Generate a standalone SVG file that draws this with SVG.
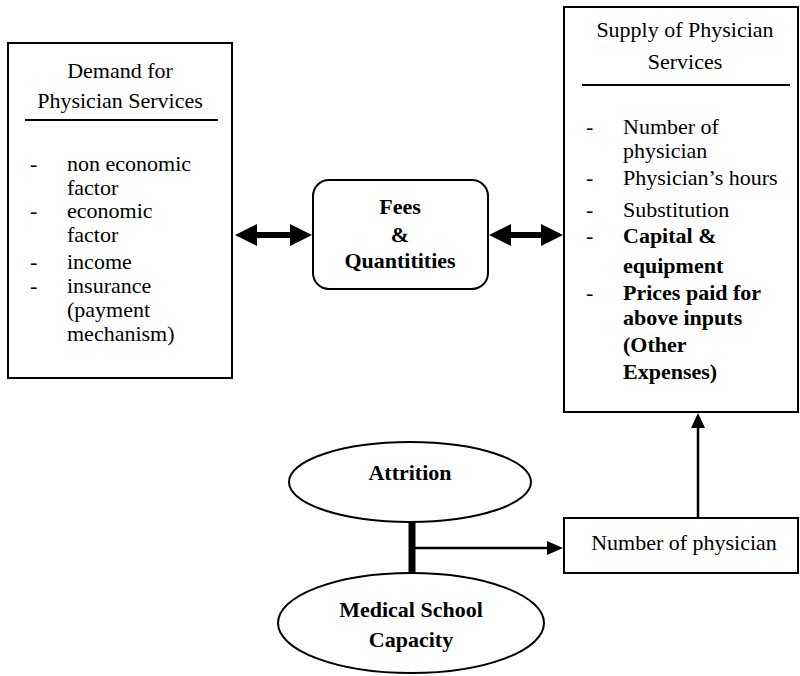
<svg xmlns="http://www.w3.org/2000/svg" width="800" height="676" viewBox="0 0 800 676" font-family="'Liberation Serif', 'DejaVu Serif', serif">
<style>
text{font-family:'Liberation Serif','DejaVu Serif',serif;font-size:22px;fill:#000}
.b{font-weight:bold}
.c{text-anchor:middle}
.box{fill:#fff;stroke:#000;stroke-width:2}
.rule{stroke:#000;stroke-width:2}
.ln{stroke:#000;stroke-width:2.5;fill:none}
</style>
<rect width="800" height="676" fill="#fff"/>

<g id="demand">
<rect class="box" x="8" y="43" width="224" height="335"/>
<text class="c" x="120" y="78">Demand for</text>
<text class="c" x="120" y="108">Physician Services</text>
<line class="rule" x1="25" y1="120" x2="218" y2="120"/>
<text x="30" y="171">-</text><text x="67" y="171">non economic</text>
<text x="67" y="195">factor</text>
<text x="30" y="218">-</text><text x="67" y="218">economic</text>
<text x="67" y="242">factor</text>
<text x="30" y="269">-</text><text x="67" y="269">income</text>
<text x="30" y="293">-</text><text x="67" y="293">insurance</text>
<text x="67" y="317">(payment</text>
<text x="67" y="341">mechanism)</text>
</g>

<g id="fees">
<rect class="box" x="313" y="180" width="175" height="109" rx="16" ry="16"/>
<text class="c b" x="400" y="214">Fees</text>
<text class="c b" x="400" y="242">&amp;</text>
<text class="c b" x="400" y="268">Quantitities</text>
</g>

<g id="supply">
<rect class="box" x="564" y="7" width="234" height="405"/>
<text class="c" x="685" y="37">Supply of Physician</text>
<text class="c" x="685" y="69">Services</text>
<line class="rule" x1="582" y1="85" x2="790" y2="85"/>
<text x="586" y="134">-</text><text x="623" y="134">Number of</text>
<text x="623" y="158">physician</text>
<text x="586" y="185">-</text><text x="623" y="185">Physician’s hours</text>
<text x="586" y="217">-</text><text x="623" y="217">Substitution</text>
<text x="586" y="243">-</text><text class="b" x="623" y="243">Capital &amp;</text>
<text class="b" x="623" y="273">equipment</text>
<text x="586" y="300">-</text><text class="b" x="623" y="300">Prices paid for</text>
<text class="b" x="623" y="325">above inputs</text>
<text class="b" x="623" y="352">(Other</text>
<text class="b" x="623" y="379">Expenses)</text>
</g>

<g id="attrition">
<ellipse class="box" cx="410" cy="482" rx="121" ry="40"/>
<text class="c b" x="410" y="480">Attrition</text>
</g>

<g id="medical">
<ellipse class="box" cx="411" cy="623" rx="133" ry="50"/>
<text class="c b" x="411" y="617">Medical School</text>
<text class="c b" x="411" y="647">Capacity</text>
</g>

<g id="numphys">
<rect class="box" x="564" y="518" width="234" height="55"/>
<text class="c" x="684" y="550">Number of physician</text>
</g>

<g id="connectors">
<path d="M235,235 L257,224 L257,232 L290,232 L290,224 L312,235 L290,246 L290,238 L257,238 L257,246 Z" fill="#000"/>
<path d="M489,235 L511,224 L511,232 L541,232 L541,224 L563,235 L541,246 L541,238 L511,238 L511,246 Z" fill="#000"/>
<line x1="412" y1="522" x2="412" y2="573" stroke="#000" stroke-width="7"/>
<line class="ln" x1="412" y1="548" x2="549" y2="548"/>
<path d="M563,548 L547,541 L547,555 Z" fill="#000"/>
<line class="ln" x1="698" y1="518" x2="698" y2="428"/>
<path d="M698,413 L691,428 L705,428 Z" fill="#000"/>
</g>
</svg>
